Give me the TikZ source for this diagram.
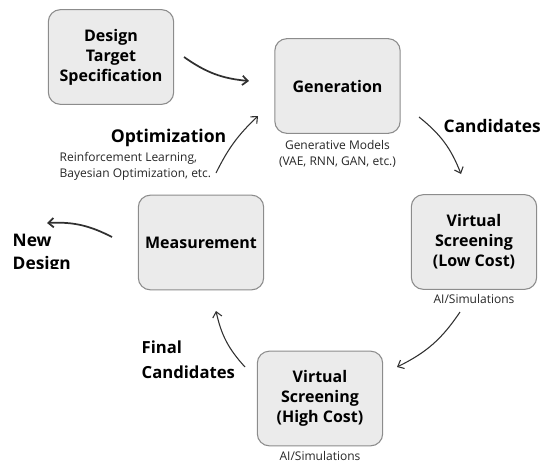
\documentclass[tikz,border=0pt]{standalone}
\usepackage{fontspec}
\setmainfont{Open Sans}
\usetikzlibrary{positioning, arrows.meta}
\definecolor{boxFill}{HTML}{EBEBEB}
\definecolor{boxLine}{HTML}{8C8C8C}
\definecolor{arrowInk}{HTML}{303030}

\begin{document}
\begin{tikzpicture}[x=0.75pt, y=-0.75pt,
  stage/.style={draw=boxLine, fill=boxFill, rounded corners=9pt, line width=0.8pt,
    minimum width=94pt, minimum height=71pt, align=center,
    font=\fontsize{12}{15}\selectfont\bfseries},
  note/.style={align=center, font=\fontsize{9}{12.5}\selectfont, text=black!85},
  tag/.style={align=left, font=\fontsize{13}{17}\selectfont\bfseries},
  flow/.style={draw=arrowInk, line width=0.8pt, -{Straight Barb[length=4pt, width=7pt]}},
  bigflow/.style={flow, line width=1.3pt}]

\useasboundingbox (0,0) rectangle (551,465);

% the five stages
\node[stage] (spec) at (111,57) {Design\\Target\\Specification};
\node[stage] (gen) at (337.5,86) {Generation};
\node[stage] (vslow) at (474,242) {Virtual\\Screening\\(Low Cost)};
\node[stage] (vshigh) at (320,398.5) {Virtual\\Screening\\(High Cost)};
\node[stage] (meas) at (201,242.5) {Measurement};

% notes under the boxes
\node[note, below=1pt of gen] (genNote) {Generative Models\\(VAE, RNN, GAN, etc.)};
\node[note, below=0pt of vslow] (lowNote) {AI/Simulations};
\node[note, below=0pt of vshigh] (highNote) {AI/Simulations};

% step labels
\node[tag, anchor=east, font=\fontsize{13.2}{17}\selectfont\bfseries] (optTag) at (231,138) {Optimization};
\node[note, align=left, anchor=west] (optNote) at (55,166.5) {Reinforcement Learning,\\Bayesian Optimization, etc.};
\node[tag, anchor=west] (candTag) at (439,126) {Candidates};
\node[tag, anchor=west, font=\fontsize{12.5}{19}\selectfont\bfseries] (finalTag) at (137,359.5) {Final\\Candidates};
\begin{scope}
  \clip (0,225) rectangle (100,268);
  \node[tag, anchor=west] (newTag) at (8,254) {New\\Design};
\end{scope}

% arrow ends
\coordinate (specOut) at (184,57);
\coordinate (genIn) at (249,81);
\coordinate (optOut) at (216,173);
\coordinate (optIn) at (258,116);
\coordinate (candOut) at (419,117);
\coordinate (candIn) at (461,174);
\coordinate (lowOut) at (460,312);
\coordinate (lowIn) at (397,367);
\coordinate (finalOut) at (245,367);
\coordinate (finalIn) at (216,311);
\coordinate (newOut) at (112,237);
\coordinate (newIn) at (47,223);

\draw[bigflow] (specOut) to[bend right=15] (genIn);
\draw[flow] (optOut) to[bend left=10] (optIn);
\draw[flow] (candOut) to[bend left=15] (candIn);
\draw[flow] (lowOut) to[bend left=15] (lowIn);
\draw[flow] (finalOut) to[bend left=15] (finalIn);
\draw[bigflow] (newOut) to[bend right=15] (newIn);
\end{tikzpicture}
\end{document}
